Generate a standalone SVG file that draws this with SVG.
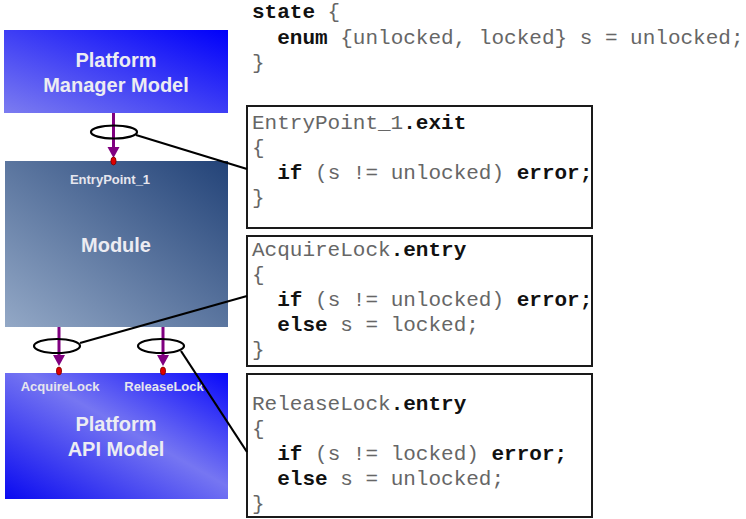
<svg xmlns="http://www.w3.org/2000/svg" width="746" height="519" viewBox="0 0 746 519">
  <style>
    .title { font-family: "Liberation Sans", Arial, sans-serif; font-weight: bold; font-size: 20px; fill: #ececf2; text-anchor: middle; }
    .port { font-family: "Liberation Sans", Arial, sans-serif; font-weight: bold; font-size: 13px; fill: #e6e6ee; text-anchor: middle; }
    .code { font-family: "Liberation Mono", "Courier New", monospace; font-size: 21px; fill: #666666; white-space: pre; }
    .kw { font-weight: bold; fill: #111111; }
    .codebox { fill: #ffffff; stroke: #1a1a1a; stroke-width: 2; }
    .ring { fill: none; stroke: #000000; stroke-width: 2.2; }
    .lead { stroke: #000000; stroke-width: 2.2; fill: none; }
    .flow { stroke: #800080; stroke-width: 3; fill: none; }
    .tip { fill: #800080; }
    .pin { fill: #e00000; stroke: #7a0000; stroke-width: 0.8; }
  </style>
  <defs>
    <linearGradient id="gManager" x1="0" y1="1" x2="1" y2="0">
      <stop offset="0" stop-color="#7c7cf0"/>
      <stop offset="1" stop-color="#0000fa"/>
    </linearGradient>
    <linearGradient id="gModule" x1="0" y1="1" x2="1" y2="0">
      <stop offset="0" stop-color="#93a8c6"/>
      <stop offset="1" stop-color="#234378"/>
    </linearGradient>
    <linearGradient id="gApi" x1="0" y1="1" x2="1" y2="0">
      <stop offset="0" stop-color="#0a0af0"/>
      <stop offset="0.55" stop-color="#7676f2"/>
      <stop offset="1" stop-color="#0808fa"/>
    </linearGradient>
  </defs>

  <!-- block models -->
  <g id="platform-manager-model">
    <rect x="4" y="30" width="224" height="83" fill="url(#gManager)"/>
    <text class="title" x="116" y="67">Platform</text>
    <text class="title" x="116" y="92">Manager Model</text>
  </g>

  <g id="module">
    <rect x="5" y="161" width="223" height="166" fill="url(#gModule)"/>
    <text class="port" x="110" y="184">EntryPoint_1</text>
    <text class="title" x="116" y="252">Module</text>
  </g>

  <g id="platform-api-model">
    <rect x="5" y="373" width="223" height="126" fill="url(#gApi)"/>
    <text class="port" x="60" y="391">AcquireLock</text>
    <text class="port" x="164" y="391">ReleaseLock</text>
    <text class="title" x="116" y="431">Platform</text>
    <text class="title" x="116" y="456">API Model</text>
  </g>

  <!-- state declaration -->
  <g id="state-decl">
    <text class="code" x="252" y="18"><tspan class="kw">state</tspan> {</text>
    <text class="code" x="252" y="44">  <tspan class="kw">enum</tspan> {unlocked, locked} s = unlocked;</text>
    <text class="code" x="252" y="69">}</text>
  </g>

  <!-- handler code boxes -->
  <g id="entrypoint-exit">
    <rect class="codebox" x="247" y="106" width="345" height="122"/>
    <text class="code" x="252" y="129">EntryPoint_1<tspan class="kw">.exit</tspan></text>
    <text class="code" x="252" y="154">{</text>
    <text class="code" x="252" y="179">  <tspan class="kw">if</tspan> (s != unlocked) <tspan class="kw">error;</tspan></text>
    <text class="code" x="252" y="204">}</text>
  </g>

  <g id="acquirelock-entry">
    <rect class="codebox" x="247" y="236" width="345" height="130"/>
    <text class="code" x="252" y="256">AcquireLock<tspan class="kw">.entry</tspan></text>
    <text class="code" x="252" y="281">{</text>
    <text class="code" x="252" y="306">  <tspan class="kw">if</tspan> (s != unlocked) <tspan class="kw">error;</tspan></text>
    <text class="code" x="252" y="331">  <tspan class="kw">else</tspan> s = locked;</text>
    <text class="code" x="252" y="356">}</text>
  </g>

  <g id="releaselock-entry">
    <rect class="codebox" x="247" y="374" width="345" height="143"/>
    <text class="code" x="252" y="410">ReleaseLock<tspan class="kw">.entry</tspan></text>
    <text class="code" x="252" y="435">{</text>
    <text class="code" x="252" y="460">  <tspan class="kw">if</tspan> (s != locked) <tspan class="kw">error;</tspan></text>
    <text class="code" x="252" y="485">  <tspan class="kw">else</tspan> s = unlocked;</text>
    <text class="code" x="252" y="510">}</text>
  </g>

  <!-- port flows, selection rings and leader lines -->
  <g id="connectors">
    <path class="flow" d="M113.5,113 V148"/>
    <path class="tip" d="M107.5,147 L119.5,147 L113.5,158 Z"/>
    <ellipse class="pin" cx="113.5" cy="161" rx="2.6" ry="4"/>
    <ellipse class="ring" cx="114" cy="132" rx="23" ry="6.5"/>
    <path class="lead" d="M136,135 L247,169"/>

    <path class="flow" d="M59,327 V356"/>
    <path class="tip" d="M53,355 L65,355 L59,366 Z"/>
    <ellipse class="pin" cx="59" cy="371" rx="2.6" ry="4"/>
    <ellipse class="ring" cx="57" cy="346" rx="23" ry="7"/>
    <path class="lead" d="M80,343 L247,296"/>

    <path class="flow" d="M163,327 V356"/>
    <path class="tip" d="M157,355 L169,355 L163,366 Z"/>
    <ellipse class="pin" cx="163" cy="371" rx="2.6" ry="4"/>
    <ellipse class="ring" cx="161" cy="346" rx="23" ry="7"/>
    <path class="lead" d="M181,351 L247,452"/>
  </g>
</svg>
